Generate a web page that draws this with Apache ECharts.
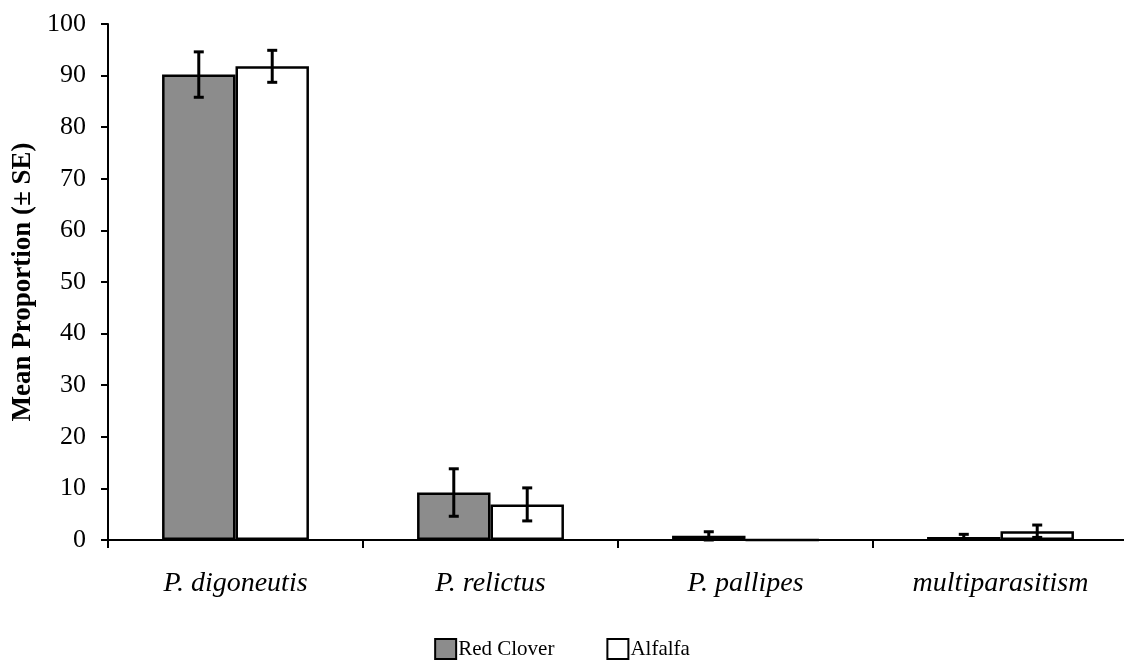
<!DOCTYPE html>
<html><head><meta charset="utf-8">
<script src="https://cdn.jsdelivr.net/npm/echarts@6/dist/echarts.min.js"></script>
<style>html,body{margin:0;padding:0;background:#fff}#c{width:1124px;height:664px}</style>
</head><body><div id="c"></div>
<script>
const categories = ['P. digoneutis', 'P. relictus', 'P. pallipes', 'multiparasitism'];
const seriesNames = ['Red Clover', 'Alfalfa'];
const redClover = [90.2, 9.2, 0.8, 0.6];
const redCloverSE = [4.4, 4.6, 0.8, 0.5];
const alfalfa = [91.8, 6.9, 0.0, 1.7];
const alfalfaSE = [3.1, 3.2, 0.0, 1.2];
const yTicks = [0, 10, 20, 30, 40, 50, 60, 70, 80, 90, 100];

const BAR_FRAC = 0.288;
function errSeries(vals, ses, side) {
  return {
    type: 'custom',
    z: 10,
    silent: true,
    data: vals.map((v, i) => [i, v, ses[i]]),
    renderItem: function (params, api) {
      const i = api.value(0), v = api.value(1), se = api.value(2);
      if (se <= 0) return null;
      const bw = api.size([1, 0])[0];
      const base = api.coord([i, v]);
      const x = base[0] + side * bw * BAR_FRAC / 2;
      const yTop = api.coord([i, v + se])[1];
      const yBot = api.coord([i, Math.max(0, v - se)])[1];
      const cap = 5;
      const st = { stroke: '#000', lineWidth: 3 };
      return { type: 'group', children: [
        { type: 'line', shape: { x1: x, y1: yTop, x2: x, y2: yBot }, style: st },
        { type: 'line', shape: { x1: x - cap, y1: yTop, x2: x + cap, y2: yTop }, style: st },
        { type: 'line', shape: { x1: x - cap, y1: yBot, x2: x + cap, y2: yBot }, style: st }
      ]};
    }
  };
}

const chart = echarts.init(document.getElementById('c'));
chart.setOption({
  animation: false,
  backgroundColor: '#fff',
  textStyle: { fontFamily: 'Liberation Serif' },
  grid: { left: 108, right: -4, top: 24, bottom: 124, containLabel: false, outerBoundsMode: 'none' },
  legend: {
    data: seriesNames,
    bottom: -1,
    left: 'center',
    icon: 'rect',
    itemWidth: 21,
    itemHeight: 20,
    itemGap: 52,
    textStyle: { fontFamily: 'Liberation Serif', fontSize: 21, color: '#000', padding: [0, 0, 0, -3] }
  },
  xAxis: {
    type: 'category',
    data: categories,
    axisLine: { lineStyle: { color: '#000', width: 2 } },
    axisTick: { show: true, length: 8, lineStyle: { color: '#000', width: 2 } },
    axisLabel: { fontFamily: 'Liberation Serif', fontStyle: 'italic', fontSize: 28, color: '#000', margin: 30 }
  },
  yAxis: {
    type: 'value',
    min: 0, max: 100, interval: 10,
    name: 'Mean Proportion (± SE)',
    nameLocation: 'middle',
    nameGap: 70,
    nameTextStyle: { fontFamily: 'Liberation Serif', fontWeight: 'bold', fontSize: 27, color: '#000' },
    axisLine: { show: true, lineStyle: { color: '#000', width: 2 } },
    axisTick: { show: true, inside: false, length: 7, lineStyle: { color: '#000', width: 2 } },
    axisLabel: { fontFamily: 'Liberation Serif', fontSize: 26, color: '#000', margin: 22,
      formatter: v => yTicks.includes(v) ? String(v) : '' },
    splitLine: { show: false }
  },
  series: [
    { name: seriesNames[0], type: 'bar', data: redClover, barWidth: (BAR_FRAC * 100) + '%', barGap: '0%',
      itemStyle: { color: '#8c8c8c', borderColor: '#000', borderWidth: 2.5 } },
    { name: seriesNames[1], type: 'bar', data: alfalfa, barWidth: (BAR_FRAC * 100) + '%', barGap: '0%',
      itemStyle: { color: '#fff', borderColor: '#000', borderWidth: 2.5 } },
    errSeries(redClover, redCloverSE, -1),
    errSeries(alfalfa, alfalfaSE, 1)
  ]
});
</script></body></html>
